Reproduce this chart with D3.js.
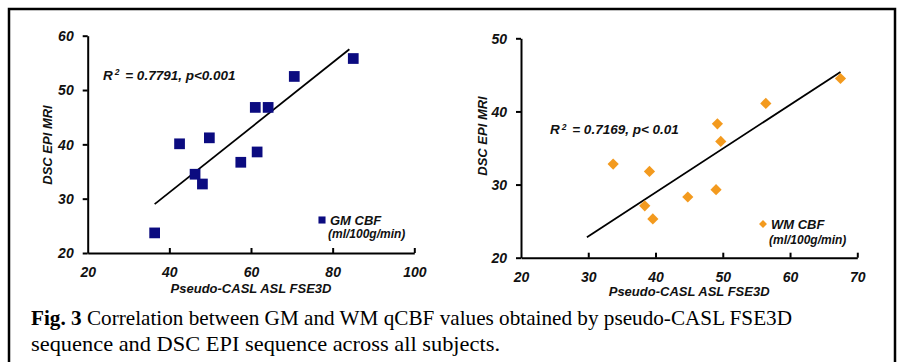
<!DOCTYPE html>
<html><head><meta charset="utf-8">
<script src="https://cdn.jsdelivr.net/npm/d3@7"></script>
<style>
html,body{margin:0;padding:0;background:#fff;}
svg{display:block;}
.ax text{font-family:"Liberation Sans",Arial,sans-serif;font-weight:bold;font-style:italic;font-size:14px;fill:#111;}
.ax path,.ax line{stroke:#000;stroke-width:2;}
.lbl{font-family:"Liberation Sans",Arial,sans-serif;font-weight:bold;font-style:italic;fill:#111;}
</style></head>
<body>
<svg id="chart" width="901" height="362"></svg>
<script>
// ---- data ----
const gmX = [36.4, 42.5, 46.3, 48.1, 49.8, 57.5, 61.05, 61.5, 64.2, 70.6, 85.05];
const gmY = [23.7, 40.1, 34.5, 32.7, 41.2, 36.7, 46.8, 38.6, 46.8, 52.5, 55.8];
const gmTrendX = [36.4, 84.1];
const gmTrendY = [29.0, 57.5];
const gmXTicks = [20, 40, 60, 80, 100];
const gmYTicks = [20, 30, 40, 50, 60];

const wmX = [33.7, 38.4, 39.1, 39.6, 44.8, 49.0, 49.2, 49.7, 56.4, 67.5];
const wmY = [32.8, 27.1, 31.8, 25.3, 28.3, 29.3, 38.3, 35.9, 41.1, 44.5];
const wmTrendX = [29.8, 67.5];
const wmTrendY = [22.8, 45.4];
const wmXTicks = [20, 30, 40, 50, 60, 70];
const wmYTicks = [20, 30, 40, 50];

const xTitle = "Pseudo-CASL ASL FSE3D";
const yTitle = "DSC EPI MRI";
const gmStat = ["R", "2", " = 0.7791, p<0.001"];
const wmStat = ["R", "2", " = 0.7169, p< 0.01"];
const gmLegend = ["GM CBF", "(ml/100g/min)"];
const wmLegend = ["WM CBF", "(ml/100g/min)"];
const captionBold = "Fig. 3";
const captionLine1 = " Correlation between GM and WM qCBF values obtained by pseudo-CASL FSE3D";
const captionLine2 = "sequence and DSC EPI sequence across all subjects.";

const svg = d3.select("#chart");
svg.append("rect").attr("x",0).attr("y",0).attr("width",901).attr("height",362).attr("fill","#fff");
// frame
svg.append("rect").attr("x",9).attr("y",9).attr("width",886).attr("height",400)
  .attr("fill","none").attr("stroke","#000").attr("stroke-width",2.5);

function panel(cfg){
  const x = d3.scaleLinear().domain(cfg.xDom).range(cfg.xRange);
  const y = d3.scaleLinear().domain(cfg.yDom).range(cfg.yRange);
  const g = svg.append("g");
  // y axis
  const ya = g.append("g").attr("class","ax").attr("transform",`translate(${cfg.xRange[0]},0)`)
    .call(d3.axisLeft(y).tickValues(cfg.yTicks).tickSize(5).tickSizeOuter(0).tickPadding(9));
  ya.selectAll("text").attr("dy","0.35em");
  // x axis
  const xa = g.append("g").attr("class","ax").attr("transform",`translate(0,${cfg.yRange[0]})`)
    .call(d3.axisBottom(x).tickValues(cfg.xTicks).tickSize(-5).tickSizeOuter(0));
  xa.selectAll("text").attr("y",19).attr("dy","0.35em");
  xa.selectAll(".tick").filter(d=>d===cfg.xDom[0]).select("line").remove();
  // titles
  g.append("text").attr("class","lbl").attr("font-size",13)
    .attr("x",(cfg.xRange[0]+cfg.xRange[1])/2).attr("y",cfg.yRange[0]+cfg.xTitleOff)
    .attr("text-anchor","middle").attr("dy","0.35em").text(xTitle);
  g.append("text").attr("class","lbl").attr("font-size",13)
    .attr("transform",`translate(${cfg.yTitleX},${cfg.yTitleY}) rotate(-90)`)
    .attr("text-anchor","middle").attr("dy","0.35em").text(yTitle);
  // trend line
  g.append("line")
    .attr("x1",x(cfg.tx[0])).attr("y1",y(cfg.ty[0]))
    .attr("x2",x(cfg.tx[1])).attr("y2",y(cfg.ty[1]))
    .attr("stroke","#000").attr("stroke-width",1.8);
  // points
  const sym = d3.symbol().type(cfg.symbol).size(cfg.symSize);
  g.selectAll("path.pt").data(cfg.xs.map((v,i)=>[v,cfg.ys[i]])).join("path")
    .attr("class","pt").attr("d",sym)
    .attr("transform",d=>`translate(${x(d[0])},${y(d[1])})`)
    .attr("fill",cfg.color);
  // stat text
  const st = g.append("text").attr("class","lbl").attr("font-size",13.5)
    .attr("x",cfg.statX).attr("y",cfg.statY).attr("dy","0.35em");
  st.append("tspan").text(cfg.stat[0]);
  st.append("tspan").attr("font-size",8.5).attr("dy","-0.5em").attr("dx","2").text(cfg.stat[1]);
  st.append("tspan").attr("dy","0.33em").attr("dx","2").text(cfg.stat[2]);
  // legend
  g.append("path").attr("d",d3.symbol().type(cfg.symbol).size(cfg.legSize))
    .attr("transform",`translate(${cfg.legX},${cfg.legY})`).attr("fill",cfg.color);
  g.append("text").attr("class","lbl").attr("font-size",13)
    .attr("x",cfg.legX+8).attr("y",cfg.legY).attr("dy","0.35em").text(cfg.legend[0]);
  g.append("text").attr("class","lbl").attr("font-size",12)
    .attr("x",cfg.legX+6).attr("y",cfg.legY+cfg.legGap).attr("dy","0.35em").text(cfg.legend[1]);
}

panel({xDom:[20,100], yDom:[20,60], xRange:[87.7,414.3], yRange:[253,35.7],
  xTicks:gmXTicks, yTicks:gmYTicks, xs:gmX, ys:gmY, tx:gmTrendX, ty:gmTrendY,
  symbol:d3.symbolSquare, symSize:115, legSize:50, color:"#0b0b80",
  stat:gmStat, statX:103, statY:75, legend:gmLegend, legX:322, legY:220, legGap:14,
  xTitleOff:35, yTitleX:47.5, yTitleY:145});

panel({xDom:[20,70], yDom:[20,50], xRange:[521,857.3], yRange:[257.7,38.3],
  xTicks:wmXTicks, yTicks:wmYTicks, xs:wmX, ys:wmY, tx:wmTrendX, ty:wmTrendY,
  symbol:d3.symbolDiamond2 || d3.symbolDiamond, symSize:80, legSize:40, color:"#f39a1e",
  stat:wmStat, statX:550, statY:129.5, legend:wmLegend, legX:763, legY:224, legGap:15.5,
  xTitleOff:34, yTitleX:482, yTitleY:136});

// caption
const c1 = svg.append("text").attr("x",31).attr("y",325)
  .attr("font-family","'Liberation Serif','Times New Roman',serif").attr("font-size",21).attr("fill","#000")
  .attr("textLength",761).attr("lengthAdjust","spacingAndGlyphs");
c1.append("tspan").attr("font-weight","bold").text(captionBold);
c1.append("tspan").text(captionLine1);
svg.append("text").attr("x",31).attr("y",351)
  .attr("font-family","'Liberation Serif','Times New Roman',serif").attr("font-size",21).attr("fill","#000")
  .attr("textLength",469).attr("lengthAdjust","spacingAndGlyphs")
  .text(captionLine2);
</script>
</body></html>
